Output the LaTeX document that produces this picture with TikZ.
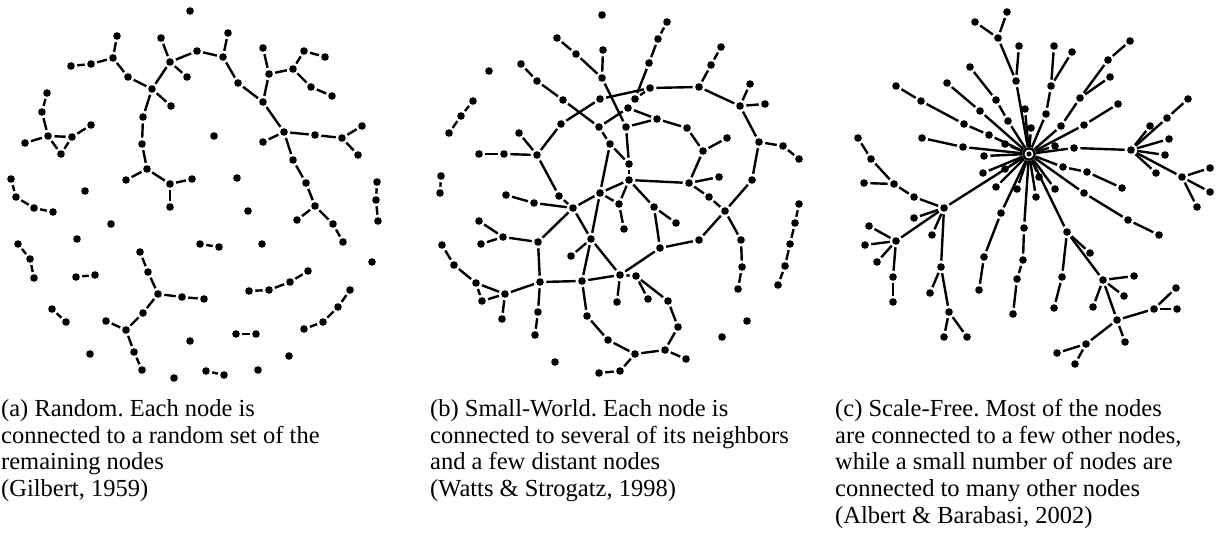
\documentclass[tikz,border=0pt]{standalone}
\usepackage{fontspec}
\setmainfont{Liberation Serif}
\frenchspacing
\begin{document}
\begin{tikzpicture}[x=1pt,y=-1pt,
  dot/.style={circle,fill=black,inner sep=0pt,minimum size=7.6pt,outer sep=2.5pt},
  hubnode/.style={circle,fill=black,inner sep=0pt,minimum size=13pt,outer sep=0.6pt},
  link/.style={line width=2.4pt,black},
  captext/.style={anchor=base west,inner sep=0pt,font=\fontsize{24.5}{26.7}\selectfont}]
\useasboundingbox (0,0) rectangle (1222,548);

% ---------- (a) random graph ----------
\foreach \x/\y in {190/11, 117/36, 113/58, 91/64, 71/66, 128/77, 152/89, 161/38, 170/62, 197/51,
  187/77, 171/106, 143/117, 142/144, 147/169, 126/180, 170/184, 192/179, 47/93, 42/112, 48/136,
  72/137, 91/125, 25/143, 61/154, 11/179, 16/197, 85/191, 228/33, 223/57, 238/83, 263/102, 263/48,
  269/74, 293/69, 304/51, 325/57, 311/87, 332/96, 284/132, 263/142, 315/135, 342/138, 362/126,
  358/155, 293/160, 306/183, 214/136, 237/178, 377/182, 376/200, 34/208, 53/212, 170/207, 111/224,
  77/239, 18/244, 30/259, 34/278, 76/277, 95/275, 200/244, 140/252, 148/272, 158/294, 182/297,
  204/299, 143/313, 126/330, 106/321, 134/352, 142/370, 52/309, 66/322, 90/354, 190/341, 174/378,
  315/206, 297/220, 333/224, 343/242, 378/221, 248/211, 219/247, 262/244, 372/262, 308/271,
  290/282, 269/290, 249/291, 350/290, 338/307, 323/322, 304/329, 236/334, 256/334, 289/356,
  206/371, 224/375, 258/370}
  \node[dot] (a\x-\y) at (\x,\y) {};
\foreach \p/\q in {117-36/113-58, 113-58/91-64, 91-64/71-66, 113-58/128-77, 128-77/152-89,
  152-89/170-62, 170-62/161-38, 170-62/197-51, 170-62/187-77, 152-89/171-106, 152-89/143-117,
  143-117/142-144, 142-144/147-169, 147-169/126-180, 147-169/170-184, 170-184/192-179,
  170-184/170-207, 47-93/42-112, 42-112/48-136, 48-136/72-137, 72-137/91-125, 48-136/25-143,
  48-136/61-154, 72-137/61-154, 11-179/16-197, 16-197/34-208, 34-208/53-212, 197-51/223-57,
  223-57/228-33, 223-57/238-83, 238-83/263-102, 263-102/269-74, 269-74/263-48, 269-74/293-69,
  293-69/304-51, 304-51/325-57, 293-69/311-87, 311-87/332-96, 263-102/284-132, 284-132/263-142,
  284-132/315-135, 315-135/342-138, 342-138/362-126, 342-138/358-155, 284-132/293-160,
  293-160/306-183, 306-183/315-206, 315-206/297-220, 315-206/333-224, 333-224/343-242,
  377-182/376-200, 376-200/378-221, 18-244/30-259, 30-259/34-278, 76-277/95-275,
  140-252/148-272, 148-272/158-294, 158-294/182-297, 182-297/204-299, 158-294/143-313,
  143-313/126-330, 126-330/106-321, 126-330/134-352, 134-352/142-370, 52-309/66-322,
  200-244/219-247, 249-291/269-290, 269-290/290-282, 290-282/308-271, 350-290/338-307,
  338-307/323-322, 323-322/304-329, 236-334/256-334, 206-371/224-375}
  \draw[link] (a\p) -- (a\q);

% ---------- (b) small-world graph ----------
\foreach \x/\y in {602/15, 557/38, 576/54, 603/50, 602/78, 521/64, 537/81, 489/71, 473/101,
  461/116, 449/133, 563/100, 600/99, 561/124, 599/127, 610/144, 519/133, 537/155, 504/154,
  479/154, 441/176, 440/193, 506/195, 559/196, 600/193, 667/22, 658/39, 649/63, 650/88, 635/99,
  628/108, 626/127, 657/119, 687/128, 703/151, 727/138, 699/87, 711/65, 721/47, 740/106, 750/84,
  765/104, 759/142, 783/146, 799/159, 752/180, 629/164, 629/180, 689/183, 719/177, 709/197,
  534/203, 573/208, 619/204, 479/221, 503/237, 481/244, 538/242, 591/239, 571/256, 442/245,
  454/265, 476/283, 505/294, 482/301, 502/319, 540/282, 582/281, 620/275, 617/302, 538/312,
  535/335, 587/316, 608/340, 555/362, 599/373, 620/371, 624/229, 654/207, 676/223, 725/211,
  699/240, 660/248, 741/240, 742/267, 738/289, 799/204, 795/223, 790/244, 785/266, 778/285,
  636/276, 648/299, 668/301, 678/327, 665/350, 686/359, 635/354, 747/321, 722/337}
  \node[dot] (b\x-\y) at (\x,\y) {};
\foreach \p/\q in {557-38/576-54, 576-54/602-78, 603-50/602-78, 602-78/626-127, 521-64/537-81,
  537-81/563-100, 563-100/599-127, 599-127/610-144, 561-124/600-99, 600-99/650-88,
  537-155/561-124, 519-133/537-155, 479-154/504-154, 504-154/537-155, 537-155/559-196,
  599-127/628-108, 610-144/600-193, 441-176/440-193, 473-101/461-116, 461-116/449-133,
  667-22/658-39, 658-39/649-63, 649-63/635-99, 635-99/650-88, 650-88/699-87, 699-87/711-65,
  711-65/721-47, 699-87/740-106, 740-106/750-84, 740-106/765-104, 740-106/759-142,
  759-142/783-146, 783-146/799-159, 759-142/752-180, 752-180/725-211, 628-108/657-119,
  626-127/657-119, 657-119/687-128, 687-128/703-151, 703-151/727-138, 703-151/689-183,
  689-183/719-177, 689-183/709-197, 629-180/689-183, 626-127/629-164, 629-164/629-180,
  610-144/629-164, 629-180/654-207, 600-193/629-180, 629-180/619-204, 600-193/619-204,
  619-204/624-229, 506-195/534-203, 534-203/573-208, 559-196/573-208, 573-208/600-193,
  600-193/591-239, 573-208/591-239, 573-208/538-242, 479-221/503-237, 503-237/538-242,
  481-244/503-237, 538-242/540-282, 591-239/571-256, 591-239/582-281, 591-239/620-275,
  540-282/582-281, 582-281/620-275, 505-294/540-282, 476-283/505-294, 442-245/454-265,
  454-265/476-283, 476-283/482-301, 482-301/505-294, 505-294/502-319, 540-282/538-312,
  538-312/535-335, 582-281/587-316, 587-316/608-340, 599-373/620-371, 654-207/676-223,
  654-207/660-248, 660-248/699-240, 699-240/725-211, 709-197/725-211, 725-211/741-240,
  741-240/742-267, 742-267/738-289, 660-248/620-275, 620-275/636-276, 620-275/617-302,
  636-276/648-299, 636-276/668-301, 668-301/678-327, 678-327/665-350, 665-350/686-359,
  665-350/635-354, 608-340/635-354, 635-354/620-371, 799-204/795-223, 795-223/790-244,
  790-244/785-266, 785-266/778-285}
  \draw[link] (b\p) -- (b\q);

% ---------- (c) scale-free graph ----------
\node[hubnode] (c1029-154) at (1029,154) {};
\foreach \x/\y in {1007/12, 975/22, 998/38, 1019/46, 1016/81, 970/67, 996/100, 1008/121,
  1025/109, 947/83, 980/111, 1005/144, 896/86, 921/101, 964/124, 989/135, 922/138, 963/147,
  984/156, 858/138, 871/159, 894/184, 864/183, 914/197, 983/173, 1005/169, 996/187, 1017/189,
  1031/128, 1054/46, 1072/52, 1051/86, 1046/114, 1130/41, 1108/60, 1110/77, 1080/98, 1118/104,
  1061/126, 1084/125, 1055/146, 1074/148, 1131/150, 1188/99, 1167/118, 1150/126, 1169/139,
  1165/155, 1156/173, 1182/177, 1210/168, 1210/192, 1063/167, 1087/172, 1122/188, 1039/177,
  1055/189, 1084/193, 944/208, 914/218, 932/235, 869/226, 896/241, 865/245, 877/262, 893/277,
  893/302, 941/267, 930/293, 949/312, 944/337, 967/337, 1001/213, 984/257, 979/290, 1024/228,
  1023/260, 1017/279, 1013/314, 1036/197, 1128/220, 1159/235, 1197/207, 1067/232, 1090/253,
  1062/277, 1054/308, 1103/280, 1134/276, 1124/296, 1093/307, 1117/320, 1125/342, 1154/309,
  1176/288, 1177/309, 1086/344, 1057/353, 1075/364}
  \node[dot] (c\x-\y) at (\x,\y) {};
\foreach \p/\q in {975-22/998-38, 998-38/1007-12, 998-38/1016-81, 1019-46/1016-81,
  1016-81/1029-154, 970-67/996-100, 996-100/1008-121, 1008-121/1029-154, 947-83/980-111,
  980-111/1029-154, 1025-109/1029-154, 896-86/921-101, 921-101/964-124, 964-124/989-135,
  989-135/1029-154, 922-138/963-147, 963-147/1029-154, 984-156/1029-154, 1005-144/1029-154,
  858-138/871-159, 871-159/894-184, 894-184/914-197, 864-183/894-184, 914-197/944-208,
  983-173/1029-154, 1005-169/1029-154, 996-187/1029-154, 1017-189/1029-154, 944-208/1029-154,
  1031-128/1029-154, 1054-46/1051-86, 1072-52/1051-86, 1051-86/1046-114, 1046-114/1029-154,
  1130-41/1108-60, 1108-60/1080-98, 1110-77/1080-98, 1080-98/1061-126, 1061-126/1029-154,
  1118-104/1084-125, 1084-125/1029-154, 1055-146/1029-154, 1074-148/1029-154,
  1074-148/1131-150, 1131-150/1150-126, 1131-150/1167-118, 1167-118/1188-99,
  1131-150/1169-139, 1131-150/1165-155, 1131-150/1156-173, 1131-150/1182-177,
  1182-177/1210-168, 1182-177/1210-192, 1182-177/1197-207, 1029-154/1063-167,
  1063-167/1087-172, 1087-172/1122-188, 1029-154/1039-177, 1029-154/1055-189,
  1029-154/1084-193, 1084-193/1128-220, 1128-220/1159-235, 914-218/944-208, 932-235/944-208,
  944-208/896-241, 896-241/869-226, 896-241/865-245, 896-241/877-262, 896-241/893-277,
  893-277/893-302, 944-208/941-267, 941-267/930-293, 941-267/949-312, 949-312/944-337,
  949-312/967-337, 1029-154/1001-213, 1001-213/984-257, 984-257/979-290, 1029-154/1024-228,
  1024-228/1023-260, 1023-260/1017-279, 1017-279/1013-314, 1029-154/1036-197,
  1029-154/1067-232, 1067-232/1090-253, 1067-232/1062-277, 1062-277/1054-308,
  1067-232/1103-280, 1103-280/1134-276, 1103-280/1124-296, 1103-280/1093-307,
  1103-280/1117-320, 1117-320/1154-309, 1154-309/1176-288, 1154-309/1177-309,
  1117-320/1125-342, 1117-320/1086-344, 1086-344/1057-353, 1086-344/1075-364}
  \draw[link] (c\p) -- (c\q);
% ringed hub
\fill[black] (c1029-154.center) circle (6.8pt);
\fill[white] (c1029-154.center) circle (4.4pt);
\fill[black] (c1029-154.center) circle (2.6pt);

% ---------- captions ----------
\foreach \t [count=\i] in {(a) Random. Each node is, connected to a random set of the,
  remaining nodes, {(Gilbert, 1959)}}
  \node[captext] (capa\i) at (1,{416.5+26.7*(\i-1)}) {\t};
\foreach \t [count=\i] in {(b) Small-World. Each node is, connected to several of its neighbors,
  and a few distant nodes, {(Watts \& Strogatz, 1998)}}
  \node[captext] (capb\i) at (430,{416.5+26.7*(\i-1)}) {\t};
\foreach \t [count=\i] in {(c) Scale-Free. Most of the nodes, {are connected to a few other nodes,},
  while a small number of nodes are, connected to many other nodes,
  {(Albert \& Barabasi, 2002)}}
  \node[captext] (capc\i) at (835,{416.5+26.7*(\i-1)}) {\t};
\end{tikzpicture}
\end{document}
